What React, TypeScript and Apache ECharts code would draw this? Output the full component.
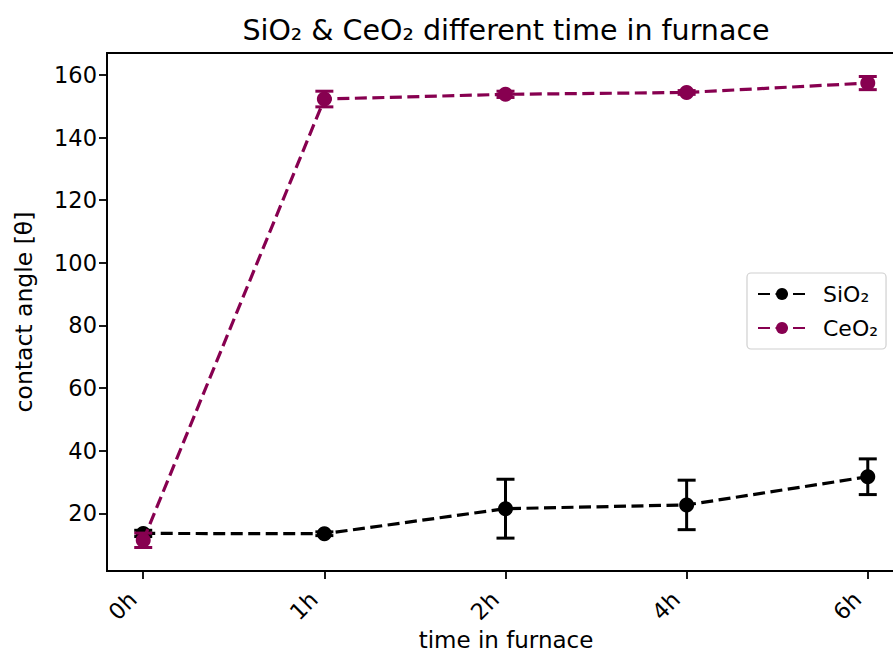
import React, { useEffect, useRef } from "react";
import * as echarts from "echarts";

const categories = ["0h", "1h", "2h", "4h", "6h"];
const sio2Mean = [13.6, 13.5, 21.5, 22.7, 31.7];
const sio2Err = [1.0, 0.6, 9.4, 7.9, 5.7];
const ceo2Mean = [11.4, 152.3, 153.8, 154.4, 157.4];
const ceo2Err = [2.3, 2.5, 1.0, 0.6, 2.1];
const yTicks = [20, 40, 60, 80, 100, 120, 140, 160];
const xTicks = [0, 1, 2, 3, 4];

const BLACK = "#000000";
const PURPLE = "#870050";
const FONT = "DejaVu Sans";

function errSeries(name: string, mean: number[], err: number[], color: string, z: number) {
  return {
    type: "custom",
    name,
    z,
    data: mean.map((m, i) => [i, m, err[i]]),
    encode: { x: 0, y: 1 },
    renderItem: (params: any, api: any) => {
      const x = api.value(0);
      const m = api.value(1);
      const e = api.value(2);
      const top = api.coord([x, m + e]);
      const bot = api.coord([x, m - e]);
      const w = 9;
      const style = { stroke: color, lineWidth: 3 };
      return {
        type: "group",
        children: [
          { type: "line", shape: { x1: top[0], y1: top[1], x2: bot[0], y2: bot[1] }, style },
          { type: "line", shape: { x1: top[0] - w, y1: top[1], x2: top[0] + w, y2: top[1] }, style },
          { type: "line", shape: { x1: bot[0] - w, y1: bot[1], x2: bot[0] + w, y2: bot[1] }, style },
        ],
      };
    },
  };
}

function lineSeries(name: string, mean: number[], color: string, z: number) {
  return {
    type: "line",
    name,
    z,
    data: mean.map((m, i) => [i, m]),
    symbol: "circle",
    symbolSize: 15,
    itemStyle: { color },
    lineStyle: { color, width: 3.2, type: [12, 5.5] },
  };
}

export default function App() {
  const ref = useRef<HTMLDivElement>(null);
  useEffect(() => {
    const chart = echarts.init(ref.current!, null, { renderer: "svg" });
    chart.setOption({
      animation: false,
      backgroundColor: "#ffffff",
      textStyle: { fontFamily: FONT },
      graphic: [
        {
          type: "text",
          x: 506,
          y: 30,
          style: {
            text: "SiO₂ & CeO₂ different time in furnace",
            textAlign: "center",
            textVerticalAlign: "middle",
            fontFamily: FONT,
            fontSize: 28.5,
            fill: BLACK,
          },
        },
        {
          type: "text",
          x: 506,
          y: 640,
          style: {
            text: "time in furnace",
            textAlign: "center",
            textVerticalAlign: "middle",
            fontFamily: FONT,
            fontSize: 23,
            fill: BLACK,
          },
        },
      ],
      legend: {
        orient: "vertical",
        left: 747,
        top: 273,
        data: ["SiO₂", "CeO₂"],
        itemWidth: 48,
        itemHeight: 15,
        itemGap: 12,
        padding: [10, 8, 10, 10],
        borderColor: "#d0d0d0",
        borderWidth: 1.2,
        borderRadius: 4,
        backgroundColor: "#ffffff",
        textStyle: { fontFamily: FONT, fontSize: 22, color: BLACK, padding: [0, 0, 0, 12] },
      },
      grid: {
        left: 107,
        width: 797,
        top: 53,
        bottom: 84,
        containLabel: false,
        outerBoundsMode: "none",
        show: true,
        borderColor: BLACK,
        borderWidth: 1.8,
      },
      xAxis: {
        type: "value",
        min: -0.2,
        max: 4.2,
        axisLine: { show: true, onZero: false, lineStyle: { color: BLACK, width: 1.8 } },
        axisTick: { show: true, customValues: xTicks, length: 8, lineStyle: { color: BLACK, width: 1.8 } },
        axisLabel: {
          customValues: xTicks,
          rotate: 45,
          margin: 14,
          padding: [0, 15, 0, 0],
          fontFamily: FONT,
          fontSize: 22.5,
          color: BLACK,
          formatter: (v: number) => categories[Math.round(v)] ?? "",
        },
        splitLine: { show: false },
      },
      yAxis: {
        type: "value",
        min: 1.6,
        max: 167,
        name: "contact angle [θ]",
        nameLocation: "middle",
        nameGap: 71,
        nameTextStyle: { fontFamily: FONT, fontSize: 23.5, color: BLACK },
        axisLine: { show: true, onZero: false, lineStyle: { color: BLACK, width: 1.8 } },
        axisTick: { show: true, customValues: yTicks, length: 8, lineStyle: { color: BLACK, width: 1.8 } },
        axisLabel: { customValues: yTicks, margin: 10, fontFamily: FONT, fontSize: 22.5, color: BLACK },
        splitLine: { show: false },
      },
      series: [
        errSeries("SiO₂ err", sio2Mean, sio2Err, BLACK, 1),
        lineSeries("SiO₂", sio2Mean, BLACK, 2),
        errSeries("CeO₂ err", ceo2Mean, ceo2Err, PURPLE, 3),
        lineSeries("CeO₂", ceo2Mean, PURPLE, 4),
      ],
    });
    return () => chart.dispose();
  }, []);
  return (
    <div
      ref={ref}
      style={{ position: "fixed", left: 0, top: 0, width: 893, height: 655, background: "#fff" }}
    />
  );
}
